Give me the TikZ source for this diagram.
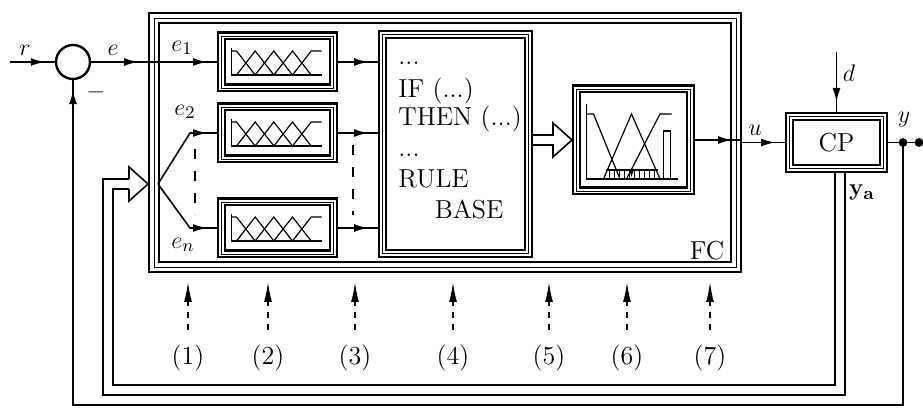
\documentclass[tikz,border=0pt]{standalone}
\usepackage{amsmath}
\usetikzlibrary{arrows.meta,decorations.markings,calc}

\begin{document}
\begin{tikzpicture}[x=0.5pt, y=-0.5pt,
  every node/.style={font=\fontsize{13}{15.5}\selectfont},
  tribox/.style={draw, line width=1.15pt, double, double distance=2.2pt,
    outer sep=2.25pt, inner sep=0pt, postaction={draw, line width=0.45pt}},
  fcbox/.style={draw, line width=1.2pt, double, double distance=3.6pt,
    outer sep=3pt, inner sep=0pt, postaction={draw, line width=0.45pt}},
  wire/.style={line width=0.8pt},
  midtip/.style={wire, postaction={decorate}, decoration={markings,
    mark=at position -5pt with {\arrow{Latex[length=7pt,width=4pt]}}}},
  plotline/.style={line width=0.6pt},
  dbl/.style={line width=0.8pt, double, double distance=4.2pt},
  vdash/.style={line width=1pt, dash pattern=on 5pt off 6pt},
  probe/.style={wire, dashed, -{Latex[length=10pt,width=4pt]}, shorten <=4pt}
]
\useasboundingbox (0,0) rectangle (923,410);

% Blocks
\node[fcbox, minimum width=291pt, minimum height=124.5pt] (fc) at (445,142.5) {};
\node[circle, draw, line width=1.2pt, minimum size=17pt, inner sep=0pt] (sum) at (73,62) {};
\node[tribox, minimum width=56pt, minimum height=26pt] (mf1) at (277.5,62) {};
\node[tribox, minimum width=56pt, minimum height=26pt] (mf2) at (277.5,133) {};
\node[tribox, minimum width=56pt, minimum height=26pt] (mfn) at (277.5,228) {};
\node[tribox, minimum width=73pt, minimum height=109.5pt] (rb) at (455.5,144) {};
\node[align=left, inner sep=0pt, anchor=west] (rbtext) at (398,141)
  {...\\[1pt]IF (...)\\[-1.5pt]THEN (...)\\...\\RULE\\\hspace*{1.4em}BASE};
\node[tribox, minimum width=57pt, minimum height=51pt] (dz) at (633.5,140) {};
\node[tribox, minimum width=47pt, minimum height=26pt] (cp) at (836.5,142.5) {CP};

% Membership functions
\foreach \b in {mf1,mf2,mfn} {
  \begin{scope}[shift={(\b.center)}, plotline]
    \draw (-46,-14) -- (-46,13) -- (44,13);
    \draw (-46,-11) -- (-41,-11) -- (-22.3,13);
    \foreach \c in {-22.3,-3.7,15}
      \draw ({\c-18.7},13) -- (\c,-11) -- ({\c+18.7},13);
    \draw (15,13) -- (33.7,-11) -- (44,-11);
  \end{scope}
}

% Defuzzification
\begin{scope}[shift={(dz.center)}, plotline]
  \draw (-47,-36) -- (-47,39) -- (44,39);
  \draw (-47,-26) -- (-40,-26) -- (-13.5,39);
  \draw (-30,39) -- (-2,-26) -- (26.5,39);
  \draw (-7,39) -- (26.5,-26) -- (38,-26);
  \draw (30,39) -- (30,-9) -- (37,-9) -- (37,39);
  \draw (-28,30) -- (24,30);
  \foreach \h in {-24,-19,...,21} \draw (\h,30) -- (\h,39);
  \fill (-4,31) -- (0,31) -- (-2,37) -- cycle;
\end{scope}

% Labels
\node (lr) at (25,50) {$r$};
\node (le) at (113,50) {$e$};
\node (le1) at (182,48) {$e_1$};
\node (le2) at (185,112) {$e_2$};
\node (len) at (183,245) {$e_n$};
\node (lm) at (96,96) {\textbf{--}};
\node (lu) at (755,130) {$u$};
\node (ld) at (849,73) {$d$};
\node (ly) at (904,120) {$y$};
\node (lya) at (862,193) {$\mathbf{y}_{\mathbf{a}}$};
\node (lfc) at (707,251) {FC};

% Coordinates
\coordinate (rin) at (10,62);
\coordinate (fan) at (158,184);
\coordinate (fbtip) at (fan -| fc.west);
\coordinate (dtop) at ($(cp.north)+(0,-60)$);
\coordinate (yj) at ($(cp.east)+(15,0)$);
\coordinate (yend) at ($(cp.east)+(31,0)$);
\coordinate (fbc) at (73,405);
\coordinate (dbc) at (108,390);

% Signal lines
\draw[midtip] (rin) -- (sum.west);
\draw[midtip] (sum.east) -- (sum.east -| fc.west);
\draw[midtip] (sum.east -| fc.west) -- (mf1.west);
\draw[midtip] (fan) -- ($(mf2.west)+(-27,0)$) -- (mf2.west);
\draw[midtip] (fan) -- ($(mfn.west)+(-27,0)$) -- (mfn.west);
\foreach \b in {mf1,mf2,mfn}
  \draw[midtip] (\b.east) -- (\b.east -| rb.west);
\draw[vdash] ($(mf2.west)+(-22,16)$) -- ($(mfn.west)+(-22,-13)$);
\draw[vdash] ($(mf2.east)+(15,12)$) -- ($(mfn.east)+(15,-13)$);

% Rule base to defuzzifier
\draw[dbl] (rb.east |- dz.west) -- ([xshift=-9pt]dz.west);
\draw[wire] ([shift={(-19,-5)}]dz.west) -- ++(0,-12) -- (dz.west)
  -- ([shift={(-19,17)}]dz.west) -- ++(0,-12);

\draw[midtip] (dz.east) -- (dz.east -| fc.east);
\draw[midtip] (fc.east |- cp.west) -- (cp.west);
\draw[midtip] (dtop) -- (cp.north);
\draw[wire] (cp.east) -- (yend);
\fill (yj) circle (2.2pt);
\fill (yend) circle (2.2pt);

% Feedback
\draw[midtip] (yj) -- (yj |- fbc) -| (sum.south);
\draw[dbl] ([xshift=1.75pt]cp.south) |- (dbc) |- ([xshift=-9.5pt]fbtip);
\draw[wire] ([shift={(-19,-5)}]fbtip) -- ++(0,-12) -- (fbtip)
  -- ([shift={(-19,17)}]fbtip) -- ++(0,-12);

% Monitoring points
\foreach \i/\x in {1/188,2/268,3/355,4/453,5/549,6/627,7/710} {
  \node (n\i) at (\x,358) {(\i)};
  \coordinate (t\i) at (\x,282);
  \draw[probe] (n\i.north) -- (t\i);
}

\end{tikzpicture}
\end{document}
